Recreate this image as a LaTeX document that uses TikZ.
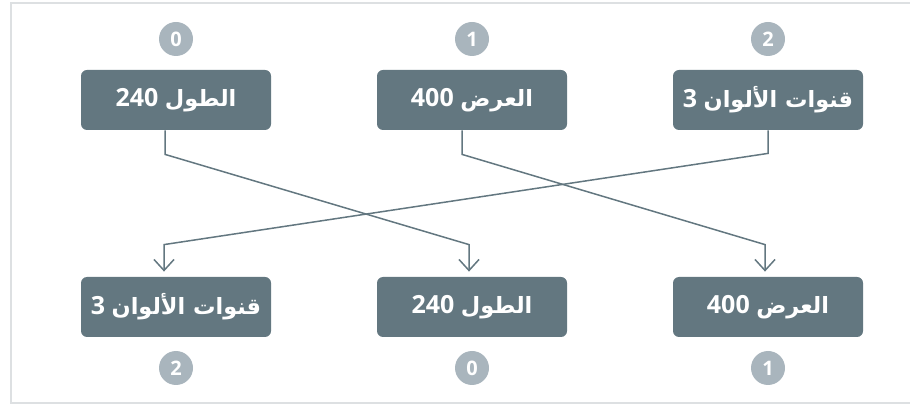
\documentclass[tikz,border=0pt]{standalone}
\usepackage{fontspec}
\setmainfont{Open Sans}
\newfontfamily\arabicfont[Script=Arabic]{DejaVu Sans}
\TeXXeTstate=1
\usetikzlibrary{arrows.meta}
\definecolor{boxgray}{HTML}{637780}
\definecolor{dotgray}{HTML}{A9B5BD}
\definecolor{framegray}{HTML}{DDE0E2}
\tikzset{
  dim/.style={fill=boxgray, rounded corners=3pt, minimum width=95pt, minimum height=30pt,
    inner sep=0pt, text=white, font=\bfseries\fontsize{12.5}{14}\selectfont},
  idx/.style={circle, fill=dotgray, minimum size=17pt, inner sep=0pt, text=white,
    font=\bfseries\fontsize{10}{11}\selectfont},
  conn/.style={draw=boxgray, line width=0.75pt, -{Straight Barb[length=5.5pt,width=10pt]}, shorten >=2.5pt}
}
\newcommand\ar[2]{\beginR{\arabicfont\fontsize{11.2}{14}\selectfont #1} \beginL #2\endL\endR}
\begin{document}
\begin{tikzpicture}[x=0.5pt, y=-0.5pt]
\useasboundingbox (0,0) rectangle (910,405);
\draw[framegray, line width=1pt] (960,3) -- (11,3) -- (11,403) -- (960,403);
\node[dim] (ta) at (176,100) {\ar{الطول}{240}};
\node[dim] (tb) at (472,100) {\ar{العرض}{400}};
\node[dim] (tc) at (768,100) {\ar{قنوات الألوان}{3}};
\node[dim] (ba) at (176,307) {\ar{قنوات الألوان}{3}};
\node[dim] (bb) at (472,307) {\ar{الطول}{240}};
\node[dim] (bc) at (768,307) {\ar{العرض}{400}};
\node[idx] (na) at (176,39) {0};
\node[idx] (nb) at (472,39) {1};
\node[idx] (nc) at (768,39) {2};
\node[idx] (ma) at (176,368) {2};
\node[idx] (mb) at (472,368) {0};
\node[idx] (mc) at (768,368) {1};
% length: 0 -> 1
\draw[conn] ([xshift=-5.5pt]ta.south) -- ++(0,24) -- ([xshift=-1.5pt,yshift=16pt]bb.north) -- ([xshift=-1.5pt]bb.north);
% width: 1 -> 2
\draw[conn] ([xshift=-5pt]tb.south) -- ++(0,24) -- ([xshift=-1.5pt,yshift=16pt]bc.north) -- ([xshift=-1.5pt]bc.north);
% channels: 2 -> 0
\draw[conn] (tc.south) -- ++(0,23) -- ([xshift=-6pt,yshift=16pt]ba.north) -- ([xshift=-6pt]ba.north);
\end{tikzpicture}
\end{document}
